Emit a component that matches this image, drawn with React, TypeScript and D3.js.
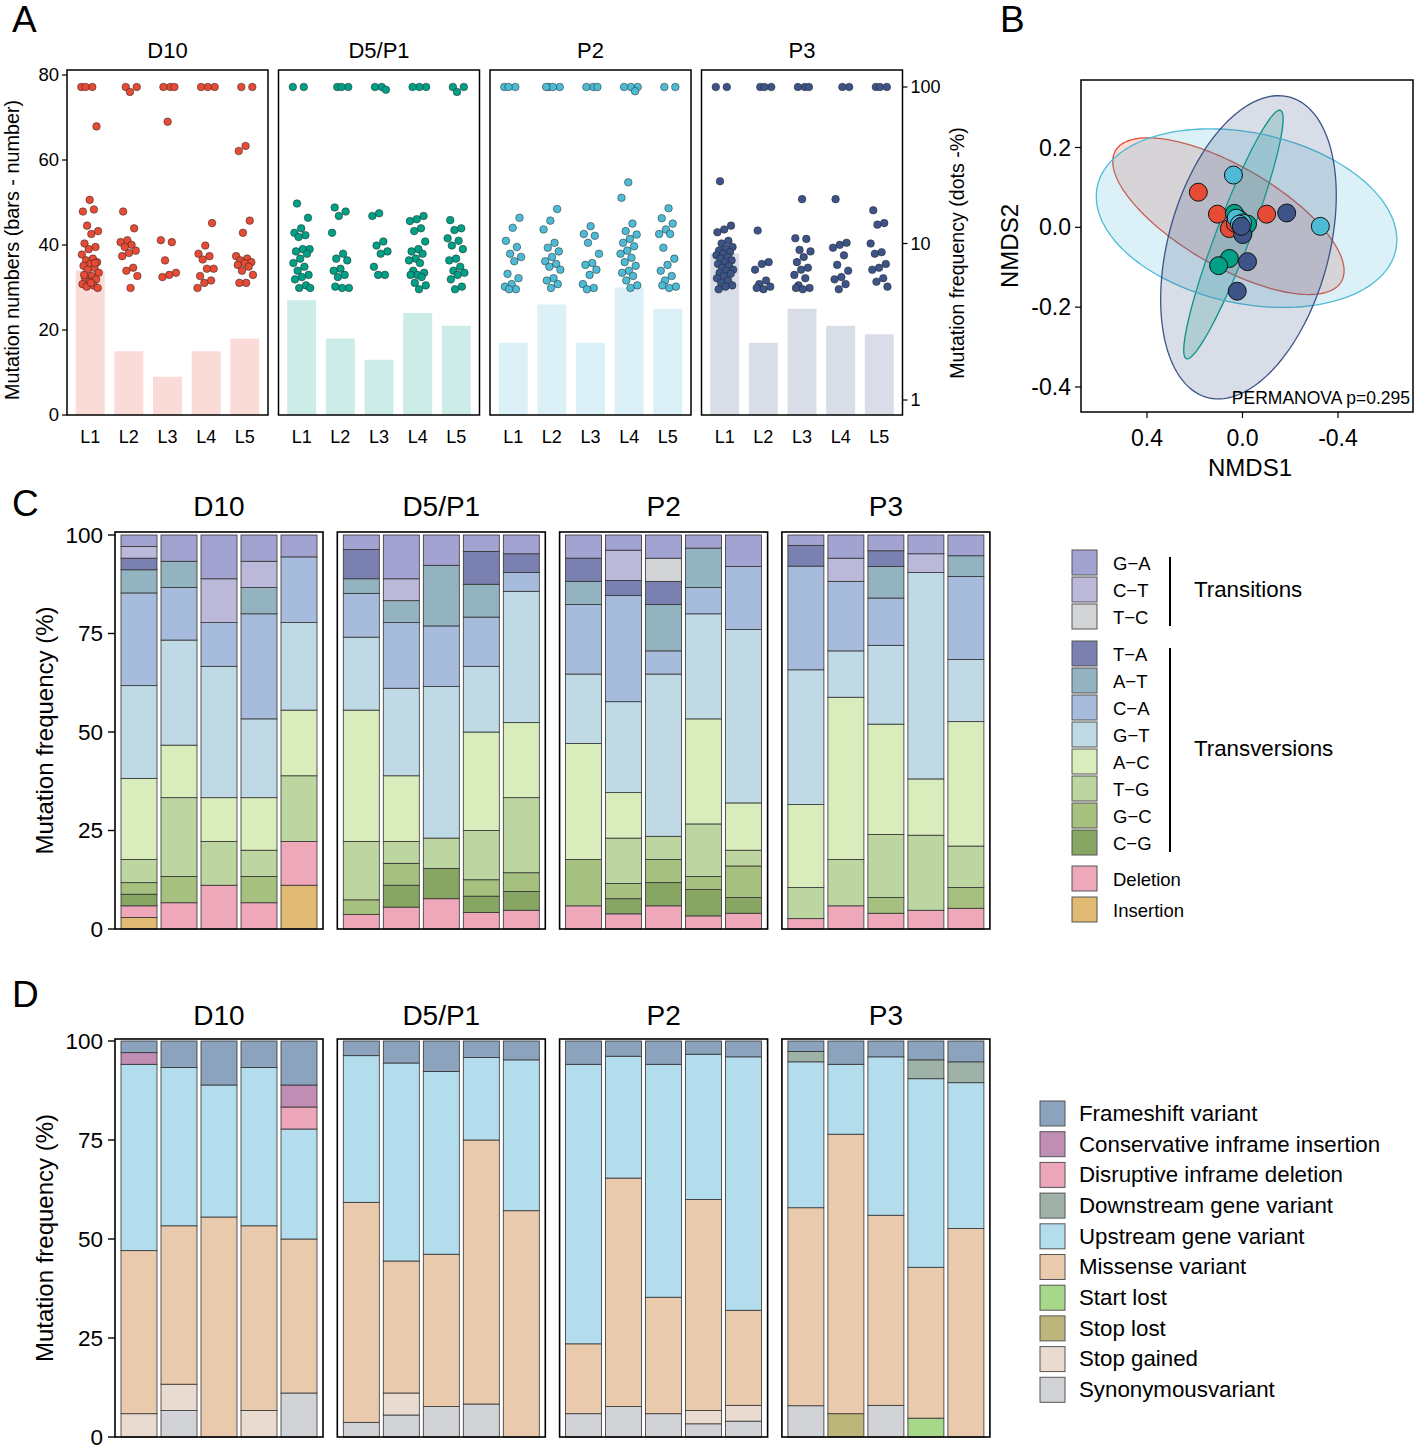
import * as d3 from "d3";

const FONT = "'Liberation Sans', Arial, Helvetica, sans-serif";

const GROUPS = ["D10", "D5/P1", "P2", "P3"];
const LINES = ["L1", "L2", "L3", "L4", "L5"];
const GROUP_COLORS = ["#E64B35", "#00A087", "#4DBBD5", "#3C5488"];

// A: mutation numbers per line (bars)
const mutationNumbers = [
  [34, 15, 9, 15, 18],
  [27, 18, 13, 24, 21],
  [17, 26, 17, 30, 25],
  [38, 17, 25, 21, 19],
];

// A: mutation frequency (%) of each mutation (dots), per line
const freqD10 = [
  [100, 100, 100, 56, 19, 16, 16.5, 13, 12, 11.5, 10, 9.5, 9.2, 8.5, 8, 7.8, 7.6, 7.4, 7.2, 7, 6.8, 6.5, 6.2, 6, 5.9, 5.7, 5.5, 5.4, 5.3, 5.2, 5.6, 6.3, 7.5],
  [100, 100, 93, 16, 12.5, 10.5, 10.2, 9.8, 9.5, 9, 8.7, 8.3, 7, 6.7, 6.2, 5.2],
  [100, 100, 100, 60, 10.5, 10.2, 7.8, 6.5, 6.3, 6.1],
  [100, 100, 100, 13.5, 9.7, 8.6, 8.3, 7.9, 6.9, 6.9, 6.2, 5.8, 5.6, 5.2],
  [100, 100, 42, 39, 14, 11.7, 8.3, 8, 7.8, 7.6, 7.5, 7.3, 7.1, 6.7, 6.3, 5.6, 5.6],
];
const freqD5P1 = [
  [100, 100, 18, 14.6, 12.5, 11.7, 11.3, 11, 9.2, 9.2, 8.9, 8.6, 8, 7.5, 7.1, 6.7, 6.3, 6.1, 5.9, 5.4, 5.2, 5.2],
  [100, 100, 100, 17, 16, 15, 11.7, 8.6, 8, 7.8, 6.9, 6.7, 6.3, 6.1, 5.2, 5.2, 5.3],
  [100, 100, 96, 15.6, 15, 10.3, 9.7, 8.9, 8.6, 7.1, 6.3, 6.3],
  [100, 100, 100, 15, 14.3, 13.9, 12.5, 12, 10.3, 9.2, 8.9, 8.6, 8, 7.8, 7.5, 6.7, 6.5, 6.3, 6.3, 6.1, 5.6, 5.4, 5.1],
  [100, 100, 93, 14.1, 12.5, 12.2, 10.8, 10.4, 9.7, 9.2, 8, 7.8, 7.1, 6.7, 6.5, 6.3, 5.9, 5.3, 5.1],
];
const freqP2 = [
  [100, 100, 100, 14.6, 12.6, 10.4, 9.5, 8.6, 8.2, 7.7, 6.4, 6, 5.5, 5.3, 5.1, 5.1],
  [100, 100, 100, 100, 16.6, 14, 12.3, 10.1, 9.4, 8.9, 8.2, 7.7, 7.4, 7.1, 6.8, 6, 5.8, 5.5, 5.2],
  [100, 100, 100, 12.9, 11.5, 11.2, 10.1, 8.6, 7.5, 7.3, 6.8, 6.3, 5.5, 5.2, 5.1],
  [100, 100, 100, 94, 24.6, 19.6, 13.4, 12, 11.4, 10.7, 10.1, 9.6, 9, 8.6, 8.1, 7.6, 7.2, 6.7, 6.5, 6.2, 5.8, 5.4, 5.2],
  [100, 100, 16.8, 14.5, 13.4, 12.3, 11.5, 11.5, 9.4, 8, 7.3, 6.7, 6.2, 5.8, 5.3, 5.2, 5.4],
];
const freqP3 = [
  [100, 100, 25, 13, 12.3, 11.8, 10.4, 10, 9.5, 9.3, 9, 8.8, 8.6, 8.4, 8.2, 8, 7.8, 7.6, 7.4, 7.2, 7, 6.8, 6.7, 6.5, 6.4, 6.2, 6, 5.8, 5.6, 5.4, 5.3, 5.1],
  [100, 100, 100, 12.1, 7.6, 7.4, 6.8, 5.8, 5.5, 5.3, 5.1, 5.2],
  [100, 100, 100, 19.2, 10.8, 10.7, 9.1, 8.9, 8.2, 7.6, 7, 6.8, 6.3, 6, 5.4, 5.2, 5.1, 5.2],
  [100, 100, 19.2, 10.1, 9.8, 9.4, 8.4, 7.3, 6.7, 6.1, 5.9, 5.5, 5.1],
  [100, 100, 100, 16.3, 13.5, 13.2, 10, 8.8, 8.6, 7.4, 7, 6.8, 6, 5.7, 5.3],
];
const dotFreqs = [freqD10, freqD5P1, freqP2, freqP3];

// B: NMDS scores per line [NMDS1, NMDS2]
const nmdsD10 = [[0.185, 0.088], [0.105, 0.033], [-0.101, 0.033], [0.055, -0.003], [0.03, 0.01]];
const nmdsD5P1 = [[0.034, 0.035], [0.013, 0.02], [-0.021, 0.008], [0.055, -0.078], [0.1, -0.096]];
const nmdsP2 = [[0.038, 0.131], [-0.326, 0.0025], [0.026, 0.023], [0, 0.011], [0.013, 0.008]];
const nmdsP3 = [[-0.185, 0.036], [-0.021, -0.086], [0.022, -0.16], [-0.001, -0.018], [0.005, 0.0025]];
const nmdsPoints = [nmdsD10, nmdsD5P1, nmdsP2, nmdsP3];
// confidence ellipses: centre and two conjugate semi-axes (NMDS units)
const ellipseCentre = [[0.059, 0.028], [0.038, -0.018], [-0.017, 0.023], [-0.025, -0.05]];
const ellipseAxisA = [[-0.473, -0.164], [0.197, -0.311], [-0.625, -0.0796], [0.174, -0.376]];
const ellipseAxisB = [[0.105, -0.108], [-0.067, -0.015], [0.0744, -0.209], [-0.324, -0.054]];

// C: substitution types (top to bottom of each bar)
const SUBST_TYPES = ["G−A", "C−T", "T−C", "T−A", "A−T", "C−A", "G−T", "A−C", "T−G", "G−C", "C−G", "Deletion", "Insertion"];
const SUBST_COLORS = ["#A3A3D1", "#BCB8D9", "#D3D4D6", "#7A80B0", "#93B3C0", "#A7BCDD", "#BFDAE5", "#D8EDBB", "#BDD5A0", "#A6C17F", "#87A664", "#EEA8BA", "#E0BA72"];
const substD10 = [
  [1, 1, 0, 1, 2, 8, 8, 7, 2, 1, 1, 1, 1],
  [1, 0, 0, 0, 1, 2, 4, 2, 3, 1, 0, 1, 0],
  [1, 1, 0, 0, 0, 1, 3, 1, 1, 0, 0, 1, 0],
  [1, 1, 0, 0, 1, 4, 3, 2, 1, 1, 0, 1, 0],
  [1, 0, 0, 0, 0, 3, 4, 3, 3, 0, 0, 2, 2],
];
const substD5P1 = [
  [1, 0, 0, 2, 1, 3, 5, 9, 4, 1, 0, 1, 0],
  [2, 1, 0, 0, 1, 3, 4, 3, 1, 1, 1, 1, 0],
  [1, 0, 0, 0, 2, 2, 5, 0, 1, 0, 1, 1, 0],
  [1, 0, 0, 2, 2, 3, 4, 6, 3, 1, 1, 1, 0],
  [1, 0, 0, 1, 0, 1, 7, 4, 4, 1, 1, 1, 0],
];
const substP2 = [
  [1, 0, 0, 1, 1, 3, 3, 5, 0, 2, 0, 1, 0],
  [1, 2, 0, 1, 0, 7, 6, 3, 3, 1, 1, 1, 0],
  [1, 0, 1, 1, 2, 1, 7, 0, 1, 1, 1, 1, 0],
  [1, 0, 0, 0, 3, 2, 8, 8, 4, 1, 2, 1, 0],
  [2, 0, 0, 0, 0, 4, 11, 3, 1, 2, 1, 1, 0],
];
const substP3 = [
  [1, 0, 0, 2, 0, 10, 13, 8, 3, 0, 0, 1, 0],
  [1, 1, 0, 0, 0, 3, 2, 7, 2, 0, 0, 1, 0],
  [1, 0, 0, 1, 2, 3, 5, 7, 4, 1, 0, 1, 0],
  [1, 1, 0, 0, 0, 0, 11, 3, 4, 0, 0, 1, 0],
  [1, 0, 0, 0, 1, 4, 3, 6, 2, 1, 0, 1, 0],
];
const substCounts = [substD10, substD5P1, substP2, substP3];

// D: variant effects (top to bottom of each bar)
const EFFECT_TYPES = ["Frameshift variant", "Conservative inframe insertion", "Disruptive inframe deletion", "Downstream gene variant", "Upstream gene variant", "Missense variant", "Start lost", "Stop lost", "Stop gained", "Synonymousvariant"];
const EFFECT_COLORS = ["#8BA3BC", "#C08DB5", "#EDA6B9", "#9FB2A8", "#B3DCED", "#E9CAAC", "#A7D88A", "#BDB67A", "#E9DBD0", "#D2D3D7"];
const effectD10 = [
  [1, 1, 0, 0, 16, 14, 0, 0, 2, 0],
  [1, 0, 0, 0, 6, 6, 0, 0, 1, 1],
  [1, 0, 0, 0, 3, 5, 0, 0, 0, 0],
  [1, 0, 0, 0, 6, 7, 0, 0, 1, 0],
  [2, 1, 1, 0, 5, 7, 0, 0, 0, 2],
];
const effectD5P1 = [
  [1, 0, 0, 0, 10, 15, 0, 0, 0, 1],
  [1, 0, 0, 0, 9, 6, 0, 0, 1, 1],
  [1, 0, 0, 0, 6, 5, 0, 0, 0, 1],
  [1, 0, 0, 0, 5, 16, 0, 0, 0, 2],
  [1, 0, 0, 0, 8, 12, 0, 0, 0, 0],
];
const effectP2 = [
  [1, 0, 0, 0, 12, 3, 0, 0, 0, 1],
  [1, 0, 0, 0, 8, 15, 0, 0, 0, 2],
  [1, 0, 0, 0, 10, 5, 0, 0, 0, 1],
  [1, 0, 0, 0, 11, 16, 0, 0, 1, 1],
  [1, 0, 0, 0, 16, 6, 0, 0, 1, 1],
];
const effectP3 = [
  [1, 0, 0, 1, 14, 19, 0, 0, 0, 3],
  [1, 0, 0, 0, 3, 12, 0, 1, 0, 0],
  [1, 0, 0, 0, 10, 12, 0, 0, 0, 2],
  [1, 0, 0, 1, 10, 8, 1, 0, 0, 0],
  [1, 0, 0, 1, 7, 10, 0, 0, 0, 0],
];
const effectCounts = [effectD10, effectD5P1, effectP2, effectP3];

const PCT_TICKS = [0, 25, 50, 75, 100];

// deterministic horizontal jitter in band units
const jitter = (i: number) => (((i * 0.61803398875) % 1) - 0.5) * 0.46;

function PanelA() {
  const top = 70;
  const bottom = 415;
  const yCount = d3.scaleLinear().domain([0, 80]).range([415, 75]);
  const yFreq = d3.scaleLog().domain([1, 100]).range([400, 87]);
  const facetW = 201;
  const facetGap = 10.5;
  const left0 = 67;
  const right = left0 + 3 * (facetW + facetGap) + facetW;
  return (
    <g>
      <text x={12} y={32} fontSize={37}>A</text>
      {GROUPS.map((g, gi) => {
        const x0 = left0 + gi * (facetW + facetGap);
        const x = d3.scalePoint<string>().domain(LINES).range([x0, x0 + facetW]).padding(0.6);
        const step = x.step();
        const barW = step * 0.75;
        return (
          <g key={g}>
            {LINES.map((l, li) => (
              <rect
                key={l}
                x={x(l)! - barW / 2}
                y={yCount(mutationNumbers[gi][li])}
                width={barW}
                height={yCount(0) - yCount(mutationNumbers[gi][li])}
                fill={GROUP_COLORS[gi]}
                fillOpacity={0.2}
              />
            ))}
            {LINES.map((l, li) =>
              dotFreqs[gi][li].map((v, i) => (
                <circle
                  key={`${l}-${i}`}
                  cx={x(l)! + jitter(i + li * 7) * step}
                  cy={yFreq(v)}
                  r={3.8}
                  fill={GROUP_COLORS[gi]}
                  stroke="#222"
                  strokeWidth={0.5}
                />
              ))
            )}
            <rect x={x0} y={top} width={facetW} height={bottom - top} fill="none" stroke="#000" strokeWidth={1.5} />
            <text x={x0 + facetW / 2} y={50} dy="0.35em" textAnchor="middle" fontSize={22}>{g}</text>
            {LINES.map((l) => (
              <text key={l} x={x(l)} y={437} dy="0.35em" textAnchor="middle" fontSize={18}>{l}</text>
            ))}
          </g>
        );
      })}
      {yCount.ticks(4).map((t) => (
        <g key={t}>
          <line x1={left0 - 5} x2={left0} y1={yCount(t)} y2={yCount(t)} stroke="#000" strokeWidth={1.2} />
          <text x={left0 - 8} y={yCount(t)} dy="0.35em" textAnchor="end" fontSize={18.5}>{t}</text>
        </g>
      ))}
      {[1, 10, 100].map((t) => (
        <g key={t}>
          <line x1={right} x2={right + 5} y1={yFreq(t)} y2={yFreq(t)} stroke="#000" strokeWidth={1.2} />
          <text x={right + 8} y={yFreq(t)} dy="0.35em" fontSize={18}>{t}</text>
        </g>
      ))}
      <text transform="translate(19,250) rotate(-90)" textAnchor="middle" fontSize={19.8}>Mutation numbers (bars - number)</text>
      <text transform="translate(957,253) rotate(-90)" dy="0.35em" textAnchor="middle" fontSize={19.6}>Mutation frequency (dots -%)</text>
    </g>
  );
}

function PanelB() {
  const box = { x0: 1081, x1: 1413, y0: 80, y1: 412 };
  const x = d3.scaleLinear().domain([0.4, -0.4]).range([1147, 1338]);
  const y = d3.scaleLinear().domain([0.2, -0.4]).range([147.5, 387]);
  const ts = d3.range(0, 2 * Math.PI, Math.PI / 90);
  const line = d3.line<[number, number]>().x((d) => x(d[0])).y((d) => y(d[1])).curve(d3.curveLinearClosed);
  return (
    <g>
      <text x={1000} y={32} fontSize={37}>B</text>
      <defs>
        <clipPath id="clipB">
          <rect x={box.x0} y={box.y0} width={box.x1 - box.x0} height={box.y1 - box.y0} />
        </clipPath>
      </defs>
      <g clipPath="url(#clipB)">
        {GROUPS.map((g, gi) => {
          const [cx, cy] = ellipseCentre[gi];
          const A = ellipseAxisA[gi];
          const B = ellipseAxisB[gi];
          const pts = ts.map((t) => [cx + A[0] * Math.cos(t) + B[0] * Math.sin(t), cy + A[1] * Math.cos(t) + B[1] * Math.sin(t)] as [number, number]);
          return <path key={g} d={line(pts)!} fill={GROUP_COLORS[gi]} fillOpacity={0.2} stroke={GROUP_COLORS[gi]} strokeWidth={1.3} />;
        })}
        {GROUPS.map((g, gi) =>
          nmdsPoints[gi].map((p, i) => (
            <circle key={`${g}-${i}`} cx={x(p[0])} cy={y(p[1])} r={9} fill={GROUP_COLORS[gi]} stroke="#111" strokeWidth={1} />
          ))
        )}
      </g>
      <rect x={box.x0} y={box.y0} width={box.x1 - box.x0} height={box.y1 - box.y0} fill="none" stroke="#000" strokeWidth={1.5} />
      {[0.2, 0, -0.2, -0.4].map((t) => (
        <g key={t}>
          <line x1={box.x0 - 6} x2={box.x0} y1={y(t)} y2={y(t)} stroke="#000" strokeWidth={1.2} />
          <text x={box.x0 - 10} y={y(t)} dy="0.35em" textAnchor="end" fontSize={23}>{d3.format(".1f")(t).replace("−", "-")}</text>
        </g>
      ))}
      {[0.4, 0, -0.4].map((t) => (
        <g key={t}>
          <line x1={x(t)} x2={x(t)} y1={box.y1} y2={box.y1 + 6} stroke="#000" strokeWidth={1.2} />
          <text x={x(t)} y={438} dy="0.35em" textAnchor="middle" fontSize={23}>{d3.format(".1f")(t).replace("−", "-")}</text>
        </g>
      ))}
      <text x={1410} y={398} dy="0.35em" textAnchor="end" fontSize={17.5}>PERMANOVA p=0.295</text>
      <text x={1250} y={468} dy="0.35em" textAnchor="middle" fontSize={24}>NMDS1</text>
      <text transform="translate(1010,246) rotate(-90)" dy="0.35em" textAnchor="middle" fontSize={24}>NMDS2</text>
    </g>
  );
}

interface StackedProps {
  letter: string;
  letterY: number;
  titleY: number;
  top: number;
  bottom: number;
  y100: number;
  y0: number;
  counts: number[][][];
  keys: string[];
  colors: string[];
}

function StackedPanel({ letter, letterY, titleY, top, bottom, y100, y0, counts, keys, colors }: StackedProps) {
  const y = d3.scaleLinear().domain([0, 100]).range([y0, y100]);
  const facetW = 208;
  const facetStep = 222.3;
  const left0 = 115;
  const bottomFirst = keys.slice().reverse();
  const color = d3.scaleOrdinal<string, string>().domain(keys).range(colors);
  return (
    <g>
      <text x={12} y={letterY} fontSize={37}>{letter}</text>
      {GROUPS.map((g, gi) => {
        const x0 = left0 + gi * facetStep;
        const x = d3.scaleBand<string>().domain(LINES).range([x0, x0 + facetW]).paddingInner(0.1).paddingOuter(0.15);
        const rows = counts[gi].map((row, li) => {
          const total = d3.sum(row);
          const obj: Record<string, number | string> = { line: LINES[li] };
          keys.forEach((k, ki) => (obj[k] = (row[ki] / total) * 100));
          return obj;
        });
        const series = d3.stack<Record<string, number | string>>().keys(bottomFirst)(rows as any);
        return (
          <g key={g}>
            {series.map((s) =>
              s.map((d, li) =>
                d[1] - d[0] > 0 ? (
                  <rect
                    key={`${s.key}-${li}`}
                    x={x(LINES[li])}
                    y={y(d[1])}
                    width={x.bandwidth()}
                    height={y(d[0]) - y(d[1])}
                    fill={color(s.key)}
                    stroke="#333"
                    strokeWidth={0.8}
                  />
                ) : null
              )
            )}
            <rect x={x0} y={top} width={facetW} height={bottom - top} fill="none" stroke="#000" strokeWidth={1.6} />
            <text x={x0 + facetW / 2} y={titleY} dy="0.35em" textAnchor="middle" fontSize={28}>{g}</text>
          </g>
        );
      })}
      {PCT_TICKS.map((t) => (
        <g key={t}>
          <line x1={left0 - 7} x2={left0} y1={y(t)} y2={y(t)} stroke="#000" strokeWidth={1.4} />
          <text x={left0 - 12} y={y(t)} dy="0.35em" textAnchor="end" fontSize={22.5}>{t}</text>
        </g>
      ))}
      <text transform={`translate(45,${(top + bottom) / 2}) rotate(-90)`} dy="0.35em" textAnchor="middle" fontSize={24}>Mutation frequency (%)</text>
    </g>
  );
}

const SUBST_LEGEND_GROUPS = [
  { label: "Transitions", items: [0, 1, 2], start: 550, step: 27 },
  { label: "Transversions", items: [3, 4, 5, 6, 7, 8, 9, 10], start: 641, step: 27 },
  { label: "", items: [11, 12], start: 866, step: 31 },
];

function LegendC() {
  return (
    <g>
      {SUBST_LEGEND_GROUPS.map((grp) => {
        const yTop = grp.start;
        const yBot = grp.start + grp.step * (grp.items.length - 1) + 25;
        return (
          <g key={grp.start}>
            {grp.items.map((ki, j) => (
              <g key={ki}>
                <rect x={1072} y={grp.start + j * grp.step} width={25} height={25} fill={SUBST_COLORS[ki]} stroke="#555" strokeWidth={1} />
                <text x={1113} y={grp.start + j * grp.step + 13.5} dy="0.35em" fontSize={18.5}>{SUBST_TYPES[ki]}</text>
              </g>
            ))}
            {grp.label && (
              <>
                <line x1={1170} x2={1170} y1={yTop + 7} y2={yBot - 3} stroke="#000" strokeWidth={2} />
                <text x={1194} y={(yTop + yBot) / 2} dy="0.35em" fontSize={22.3}>{grp.label}</text>
              </>
            )}
          </g>
        );
      })}
    </g>
  );
}

function LegendD() {
  return (
    <g>
      {EFFECT_TYPES.map((k, i) => (
        <g key={k}>
          <rect x={1040} y={1101 + i * 30.7} width={25} height={25} fill={EFFECT_COLORS[i]} stroke="#555" strokeWidth={1} />
          <text x={1079} y={1101 + i * 30.7 + 12} dy="0.35em" fontSize={22.3}>{k}</text>
        </g>
      ))}
    </g>
  );
}

export default function App() {
  return (
    <svg width={1416} height={1449} style={{ position: "absolute", left: 0, top: 0, background: "#fff" }} fontFamily={FONT}>
      <rect width={1416} height={1449} fill="#fff" />
      <PanelA />
      <PanelB />
      <StackedPanel letter="C" letterY={516} titleY={506} top={532} bottom={929} y100={535} y0={929} counts={substCounts} keys={SUBST_TYPES} colors={SUBST_COLORS} />
      <LegendC />
      <StackedPanel letter="D" letterY={1007} titleY={1015} top={1039} bottom={1437} y100={1041} y0={1437} counts={effectCounts} keys={EFFECT_TYPES} colors={EFFECT_COLORS} />
      <LegendD />
    </svg>
  );
}
